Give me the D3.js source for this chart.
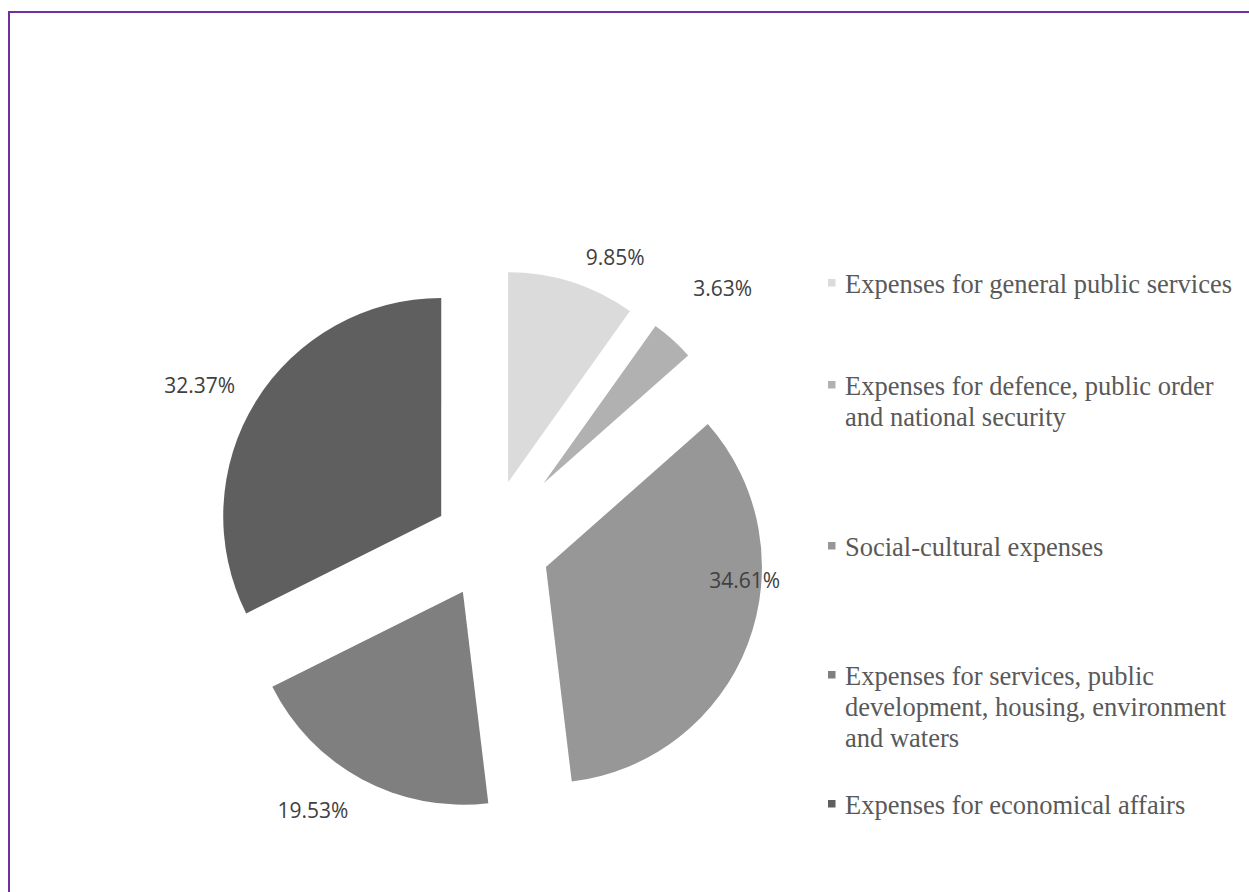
<!DOCTYPE html>
<html>
<head>
<meta charset="utf-8">
<script src="https://cdn.jsdelivr.net/npm/d3@7"></script>
<style>
  html, body { margin: 0; padding: 0; background: #fff; }
  svg { display: block; }
</style>
</head>
<body>
<svg id="chart" width="1249" height="892"></svg>
<script>
// ---- data ----
const categories = [
  "Expenses for general public services",
  "Expenses for defence, public order and national security",
  "Social-cultural expenses",
  "Expenses for services, public development, housing, environment and waters",
  "Expenses for economical affairs"
];
const values = [9.85, 3.63, 34.61, 19.53, 32.37];
const valueLabels = ["9.85%", "3.63%", "34.61%", "19.53%", "32.37%"];
const legendLines = [
  ["Expenses for general public services"],
  ["Expenses for defence, public order", "and national security"],
  ["Social-cultural expenses"],
  ["Expenses for services, public", "development, housing, environment", "and waters"],
  ["Expenses for economical affairs"]
];

// ---- style ----
const colors = ["#DBDBDB", "#B1B1B1", "#979797", "#7F7F7F", "#5F5F5F"];
const explode = [66, 83, 62, 53, 55];
const radii = [210, 193, 216, 213, 218];
const labelAngleDeg = [23.8, 42.4, 97.8, 213.4, 299.1];
const labelDist = [315, 348, 259, 318, 330];
const legendItemY = [284, 386, 547, 676, 805];
const center = { x: 488, y: 545 };

const svg = d3.select("#chart");

// border
svg.append("path")
  .attr("d", "M9,892 L9,12 L1249,12")
  .attr("fill", "none")
  .attr("stroke", "#7030A0")
  .attr("stroke-width", 2);

const pie = d3.pie().sort(null).value(d => d).startAngle(0).endAngle(2 * Math.PI);
const arcs = pie(values);

const g = svg.append("g").attr("transform", `translate(${center.x},${center.y})`);

g.selectAll("path.slice")
  .data(arcs)
  .join("path")
  .attr("class", "slice")
  .attr("fill", (d, i) => colors[i])
  .attr("d", (d, i) => d3.arc().innerRadius(0).outerRadius(radii[i])(d))
  .attr("transform", (d, i) => {
    const mid = (d.startAngle + d.endAngle) / 2;
    const dx = Math.sin(mid) * explode[i];
    const dy = -Math.cos(mid) * explode[i];
    return `translate(${dx},${dy})`;
  });

g.selectAll("text.lbl")
  .data(arcs)
  .join("text")
  .attr("class", "lbl")
  .attr("x", (d, i) => Math.sin(labelAngleDeg[i] * Math.PI / 180) * labelDist[i])
  .attr("y", (d, i) => -Math.cos(labelAngleDeg[i] * Math.PI / 180) * labelDist[i])
  .attr("text-anchor", "middle")
  .attr("dominant-baseline", "central")
  .attr("font-family", "'Open Sans', 'Noto Sans', sans-serif")
  .attr("font-size", 21)
  .attr("fill", "#404040")
  .text((d, i) => valueLabels[i]);

// legend
const lg = svg.append("g");
const lineH = 31;
categories.forEach((c, i) => {
  const y0 = legendItemY[i];
  lg.append("rect")
    .attr("x", 828).attr("y", y0 - 5)
    .attr("width", 7.5).attr("height", 7.5)
    .attr("fill", colors[i]);
  legendLines[i].forEach((ln, j) => {
    lg.append("text")
      .attr("x", 845)
      .attr("y", y0 + j * lineH)
      .attr("dominant-baseline", "central")
      .attr("font-family", "'Liberation Serif', 'Times New Roman', serif")
      .attr("font-size", 26.5)
      .attr("fill", "#595959")
      .text(ln);
  });
});
</script>
</body>
</html>
